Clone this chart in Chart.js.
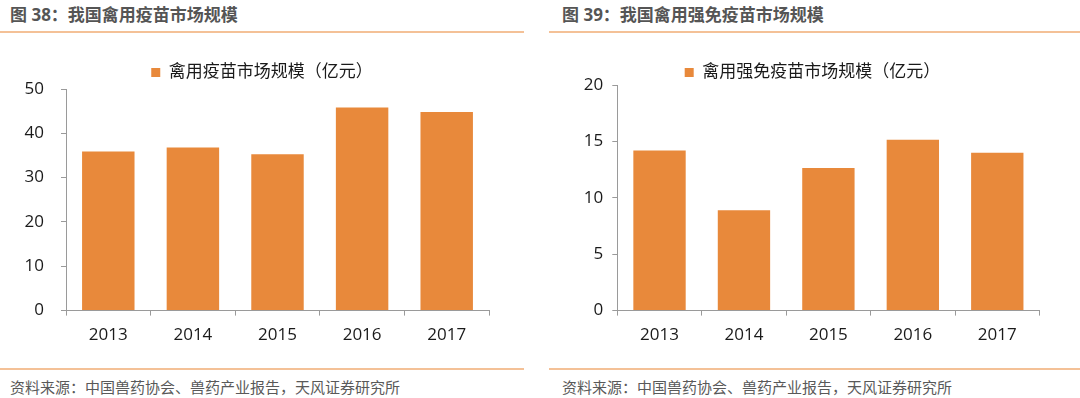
<!DOCTYPE html>
<html>
<head>
<meta charset="utf-8">
<script src="https://cdn.jsdelivr.net/npm/chart.js@4/dist/chart.umd.min.js"></script>
<style>
  body { margin: 0; background: #fff; font-family: "Open Sans", "Noto Sans CJK SC", sans-serif; }
  #page { position: relative; width: 1080px; height: 398px; overflow: hidden; background: #fff; }
  .title { position: absolute; top: 4px; font-size: 17px; font-weight: bold; color: #555; line-height: 22px; white-space: nowrap; }
  .source { position: absolute; top: 376px; font-size: 15px; color: #595959; line-height: 22px; white-space: nowrap; }
  .rule { position: absolute; height: 2px; background: #f4c197; }
  canvas { position: absolute; top: 50px; }
</style>
</head>
<body>
<div id="page">
  <div class="title" style="left:10px">图 38：我国禽用疫苗市场规模</div>
  <div class="title" style="left:562px">图 39：我国禽用强免疫苗市场规模</div>
  <div class="rule" style="left:0; width:524px; top:31px"></div>
  <div class="rule" style="left:549px; width:531px; top:31px"></div>
  <div class="rule" style="left:0; width:524px; top:368px"></div>
  <div class="rule" style="left:549px; width:531px; top:368px"></div>
  <canvas id="left" width="540" height="307" style="left:0"></canvas>
  <canvas id="right" width="540" height="307" style="left:540px"></canvas>
  <div class="source" style="left:10px">资料来源：中国兽药协会、兽药产业报告，天风证券研究所</div>
  <div class="source" style="left:562px">资料来源：中国兽药协会、兽药产业报告，天风证券研究所</div>
</div>
<script>
'use strict';

const years = ['2013', '2014', '2015', '2016', '2017'];
const poultryVaccine = [35.9, 36.8, 35.3, 45.8, 44.8];
const poultryForcedVaccine = [14.2, 8.9, 12.65, 15.15, 14.0];
const leftLabel = '禽用疫苗市场规模（亿元）';
const rightLabel = '禽用强免疫苗市场规模（亿元）';

Chart.defaults.font.family = '"Open Sans", "Noto Sans CJK SC", sans-serif';
Chart.defaults.color = '#1a1a1a';

const axisGrey = '#9a9a9a';
const barOrange = '#e8893b';

// fixed legend height (so the plot top lands where we want) and a sideways nudge
const legendTweak = (h, dx) => ({
  id: 'legendTweak',
  beforeLayout(chart) {
    if (chart.legend && !chart.legend._fixed) {
      const fit = chart.legend.fit;
      chart.legend.fit = function () {
        fit.call(this);
        this.height = h;
      };
      chart.legend._fixed = true;
    }
  },
  afterLayout(chart) {
    if (chart.legend) {
      chart.legend.left += dx;
      chart.legend.right += dx;
    }
  }
});

const barChart = (ctx, data, label, opts) => {
  return new Chart(ctx, {
    type: 'bar',
    data: {
      labels: years,
      datasets: [{
        label: label,
        data: data,
        backgroundColor: barOrange,
        barPercentage: 0.62,
        categoryPercentage: 1,
      }]
    },
    plugins: [legendTweak(opts.legendH, opts.legendDx)],
    options: {
      responsive: false,
      animation: false,
      devicePixelRatio: 1,
      layout: {
        padding: { left: 0, right: opts.padR, top: 4, bottom: 3 }
      },
      plugins: {
        legend: {
          labels: {
            boxWidth: 9,
            boxHeight: 9,
            padding: 10,
            font: { size: 17 },
            color: '#1a1a1a',
          }
        },
        tooltip: { enabled: false }
      },
      scales: {
        x: {
          grid: { drawOnChartArea: false, color: axisGrey, tickLength: 5, offset: true },
          border: { color: axisGrey },
          ticks: { font: { size: 17 }, padding: 9, color: '#1a1a1a' }
        },
        y: {
          min: 0,
          max: opts.max,
          grid: { drawOnChartArea: false, color: axisGrey, tickLength: 5 },
          border: { color: axisGrey },
          ticks: { stepSize: opts.step, font: { size: 17 }, padding: opts.tickPad, color: '#1a1a1a' },
          afterFit(scale) { scale.width = opts.axisW; }
        }
      }
    }
  });
};

barChart(document.getElementById('left'), poultryVaccine, leftLabel,
  { max: 50, step: 10, padR: 51, axisW: 66, tickPad: 17, legendH: 35, legendDx: 17.5 });
barChart(document.getElementById('right'), poultryForcedVaccine, rightLabel,
  { max: 20, step: 5, padR: 40.5, axisW: 77.3, tickPad: 9, legendH: 31, legendDx: 22.7 });
</script>
</body>
</html>
